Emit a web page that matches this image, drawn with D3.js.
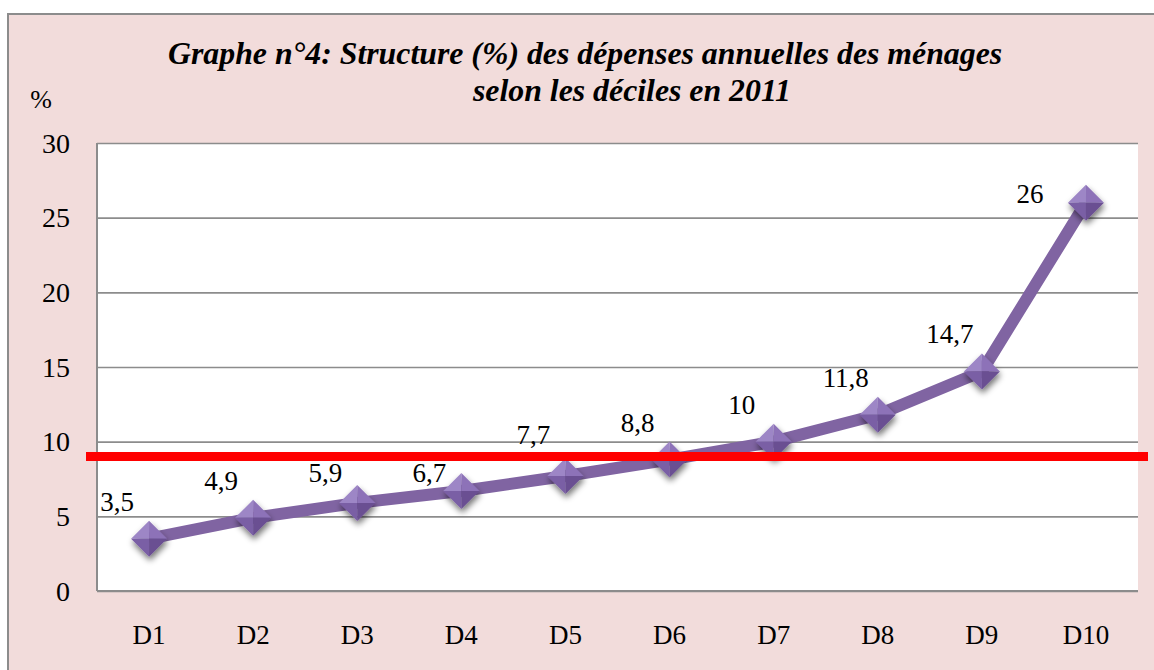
<!DOCTYPE html>
<html>
<head>
<meta charset="utf-8">
<script src="https://cdn.jsdelivr.net/npm/d3@7"></script>
<style>
  body { margin: 0; background: #fff; }
  svg text { font-family: "Liberation Serif", "Times New Roman", serif; fill: #000; }
  .grid line { stroke: #8c8c8c; stroke-width: 1.6; }
  .grid .domain { display: none; }
</style>
</head>
<body>
<svg id="chart" width="1154" height="670"></svg>
<script>
// data
const deciles = ["D1", "D2", "D3", "D4", "D5", "D6", "D7", "D8", "D9", "D10"];
const shares = [3.5, 4.9, 5.9, 6.7, 7.7, 8.8, 10, 11.8, 14.7, 26];
const yTicks = [0, 5, 10, 15, 20, 25, 30];
const refValue = 9; // red horizontal line
const titleLines = ["Graphe n°4: Structure (%) des dépenses annuelles des ménages",
                    "selon les déciles en 2011"];

const plot = {left: 97, right: 1138, top: 143, bottom: 591};

const chart = d3.select("#chart");

// outer pink frame (cut off at right and bottom like the reference)
chart.append("rect")
    .attr("x", 8).attr("y", 14)
    .attr("width", 1160).attr("height", 670)
    .style("fill", "#f2dcdb")
    .style("stroke", "#8c8c8c")
    .style("stroke-width", 2);

// plot area
chart.append("rect")
    .attr("x", plot.left).attr("y", plot.top)
    .attr("width", plot.right - plot.left).attr("height", plot.bottom - plot.top)
    .style("fill", "white");

let xScale = d3.scaleBand().domain(deciles).range([plot.left, plot.right]).padding(0);
let yScale = d3.scaleLinear().domain([0, 30]).range([plot.bottom, plot.top]);
const cx = d => xScale(d) + xScale.bandwidth() / 2;

// grid
chart.append("g")
    .attr("class", "grid")
    .attr("transform", `translate(${plot.left},0)`)
    .call(d3.axisLeft(yScale).tickValues(yTicks).tickFormat("").tickSize(-(plot.right - plot.left)));

// axis lines
chart.append("line")
    .attr("x1", plot.left).attr("x2", plot.left)
    .attr("y1", plot.top).attr("y2", plot.bottom)
    .style("stroke", "#8c8c8c").style("stroke-width", 2);
chart.append("line")
    .attr("x1", plot.left).attr("x2", plot.right)
    .attr("y1", plot.bottom).attr("y2", plot.bottom)
    .style("stroke", "#8c8c8c").style("stroke-width", 2);

// y tick labels
chart.append("g").selectAll("text").data(yTicks).enter().append("text")
    .attr("x", 70)
    .attr("y", d => yScale(d))
    .attr("dy", "0.35em")
    .attr("text-anchor", "end")
    .style("font-size", "28px")
    .text(d => d);

// x tick labels
chart.append("g").selectAll("text").data(deciles).enter().append("text")
    .attr("x", d => cx(d))
    .attr("y", 644)
    .attr("text-anchor", "middle")
    .style("font-size", "27px")
    .text(d => d);

// unit
chart.append("text")
    .attr("x", 41).attr("y", 108)
    .attr("text-anchor", "middle")
    .style("font-size", "26px")
    .text("%");

// title
chart.append("text")
    .attr("x", 168).attr("y", 64)
    .style("font-size", "31.8px").style("font-weight", "bold").style("font-style", "italic")
    .text(titleLines[0]);
chart.append("text")
    .attr("x", 473).attr("y", 101)
    .style("font-size", "31.8px").style("font-weight", "bold").style("font-style", "italic")
    .text(titleLines[1]);

// marker shading and shadow
const defs = chart.append("defs");
const shadow = defs.append("filter").attr("id", "shadow")
    .attr("x", "-50%").attr("y", "-50%").attr("width", "200%").attr("height", "200%");
shadow.append("feGaussianBlur").attr("in", "SourceAlpha").attr("stdDeviation", 3);
shadow.append("feOffset").attr("dx", 1).attr("dy", 4).attr("result", "blur");
shadow.append("feComponentTransfer").append("feFuncA").attr("type", "linear").attr("slope", 0.55);
const merge = shadow.append("feMerge");
merge.append("feMergeNode");
merge.append("feMergeNode").attr("in", "SourceGraphic");

let data = deciles.map((d, i) => ({cat: d, value: shares[i]}));

// line
let line = d3.line().x(d => cx(d.cat)).y(d => yScale(d.value));
chart.append("path")
    .datum(data)
    .attr("d", line)
    .style("fill", "none")
    .style("stroke", "#8064a2")
    .style("stroke-width", 12)
    .style("stroke-linejoin", "round");

// diamond markers built from four facets
const r = 18;
const facets = [
    {pts: [[0, 0], [-r, 0], [0, -r]], fill: "#9d86c6"},
    {pts: [[0, 0], [0, -r], [r, 0]], fill: "#8d72b8"},
    {pts: [[0, 0], [r, 0], [0, r]], fill: "#6a4f92"},
    {pts: [[0, 0], [0, r], [-r, 0]], fill: "#7a5fa5"}
];
let markers = chart.append("g").selectAll(".dots").data(data).enter().append("g")
    .attr("class", "dots")
    .attr("transform", d => `translate(${cx(d.cat)},${yScale(d.value)})`)
    .attr("filter", "url(#shadow)");
facets.forEach(f => {
    markers.append("polygon")
        .attr("points", f.pts.map(p => p.join(",")).join(" "))
        .style("fill", f.fill);
});

// value labels: above left of each point, last one to the left,
// moved off the red line when they would sit on it (below unless above is much closer)
const refY = yScale(refValue);
const redHalf = 4.5, capH = 19, descH = 6;
function labelY(d, i) {
    if (i === data.length - 1) return yScale(d.value);
    let base = yScale(d.value) - 28;
    if (base + descH > refY - redHalf && base - capH < refY + redHalf) {
        let below = refY + redHalf + capH + 2;
        let above = refY - redHalf - descH - 2;
        base = (below - base <= base - above + 8) ? below : above;
    }
    return base;
}
chart.append("g").selectAll("text").data(data).enter().append("text")
    .attr("x", (d, i) => cx(d.cat) + (i === data.length - 1 ? -56 : -32))
    .attr("y", labelY)
    .attr("text-anchor", "middle")
    .style("font-size", "27px")
    .text(d => String(d.value).replace(".", ","));

// red reference line
chart.append("line")
    .attr("x1", plot.left - 11).attr("x2", plot.right + 10)
    .attr("y1", refY).attr("y2", refY)
    .style("stroke", "#ff0000")
    .style("stroke-width", 9);
</script>
</body>
</html>
